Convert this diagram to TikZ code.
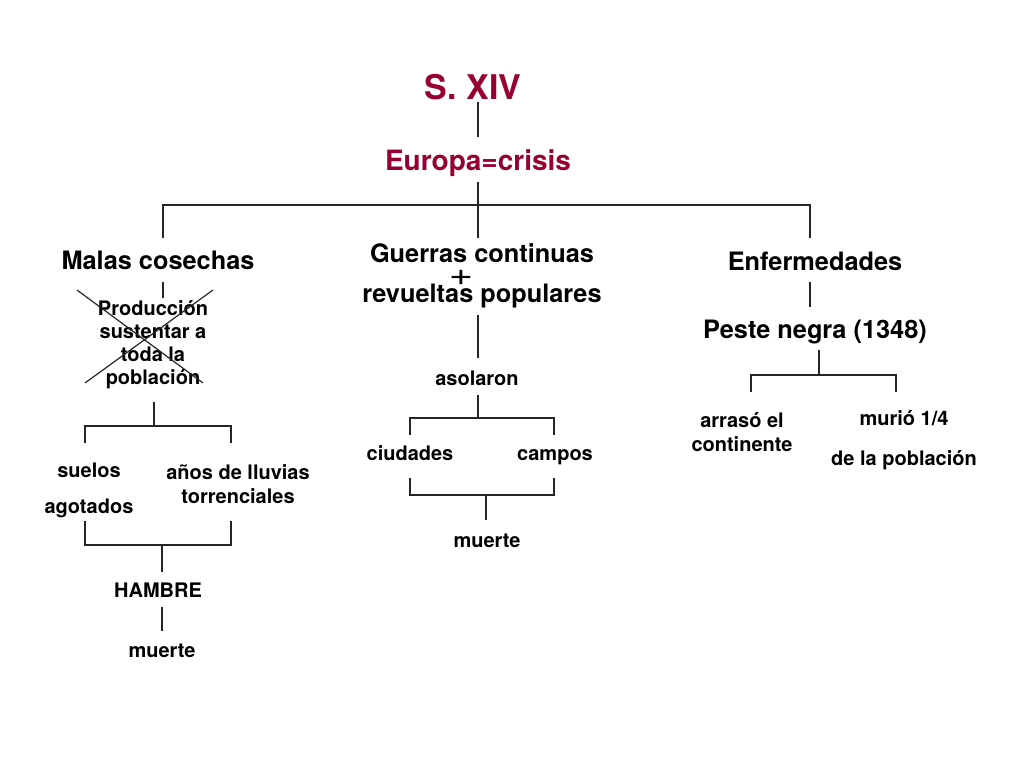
\documentclass[tikz,border=0pt]{standalone}
\usepackage{fontspec}
\setmainfont{TeX Gyre Heros}
\definecolor{crimson}{RGB}{152,0,52}
\begin{document}
\begin{tikzpicture}[x=0.75pt,y=-0.75pt,
  txt/.style={inner sep=0pt,font=\bfseries\fontsize{15}{17.25}\selectfont,align=center},
  one/.style={inner sep=0pt,anchor=base,font=\bfseries\fontsize{15}{17.25}\selectfont},
  big/.style={inner sep=0pt,anchor=base,font=\bfseries\fontsize{19}{17.25}\selectfont},
  title/.style={inner sep=0pt,anchor=base,text=crimson,font=\bfseries\fontsize{25.5}{28}\selectfont},
  sub/.style={inner sep=0pt,anchor=base,text=crimson,font=\bfseries\fontsize{21}{24}\selectfont},
  ln/.style={draw=black!85,line width=1.1pt},
  xl/.style={draw=black!85,line width=0.9pt}]
\useasboundingbox[fill=white] (0,0) rectangle (1024,768);
% nodes
\node[title] (s14) at (473,99) {S. XIV};
\node[sub] (eur) at (478,170) {Europa=crisis};
\node[big] (malas) at (158,269) {Malas cosechas};
\node[big] (gu1) at (482,262) {Guerras continuas};
\node[inner sep=0pt,text height=0.4em,text depth=0pt,font=\fontsize{24}{24}\selectfont] (plus) at (461,277) {\raisebox{-4pt}{\scalebox{1.3}[1]{+}}};
\node[big] (gu2) at (482,302) {revueltas populares};
\node[big] (enf) at (815,270) {Enfermedades};
\node[big] (peste) at (815,338) {Peste negra (1348)};
\node[txt] (prod) at (153,345) {Producción\\sustentar a\\toda la\\población};
\node[txt,font=\bfseries\fontsize{15}{27}\selectfont] (suelos) at (89,490) {suelos\\agotados};
\node[txt,font=\bfseries\fontsize{15}{18}\selectfont] (anos) at (238,484) {años de lluvias\\torrenciales};
\node[one] (hambre) at (158,597) {HAMBRE};
\node[one] (muerte1) at (162,657) {muerte};
\node[one] (asol) at (477,385) {asolaron};
\node[one] (ciud) at (410,460) {ciudades};
\node[one] (camp) at (555,460) {campos};
\node[one] (muerte2) at (487,547) {muerte};
\node[txt,font=\bfseries\fontsize{15}{18}\selectfont] (arr) at (742,432) {arrasó el\\continente};
\node[txt,font=\bfseries\fontsize{15}{30}\selectfont] (murio) at (904,440) {murió 1/4\\de la población};
% coordinates for connectors
\coordinate (c1a) at (478,102); \coordinate (c1b) at (478,137);
\coordinate (c2a) at (478,182); \coordinate (c2b) at (478,238);
\coordinate (hl) at (163,205); \coordinate (hr) at (810,205);
\coordinate (dl) at (163,238); \coordinate (dr) at (810,238);
\coordinate (m1) at (163,282); \coordinate (m2) at (163,298);
\coordinate (x1) at (77,290); \coordinate (x2) at (203,383);
\coordinate (x3) at (213,290); \coordinate (x4) at (85,383);
\coordinate (p1) at (154,402); \coordinate (p2) at (154,426);
\coordinate (p3) at (85,426); \coordinate (p4) at (231,426);
\coordinate (p5) at (85,443); \coordinate (p6) at (231,443);
\coordinate (q1) at (85,521); \coordinate (q2) at (85,545);
\coordinate (q3) at (231,545); \coordinate (q4) at (231,521);
\coordinate (q5) at (162,545); \coordinate (q6) at (162,572);
\coordinate (h1) at (162,607); \coordinate (h2) at (162,631);
\coordinate (g1) at (478,315); \coordinate (g2) at (478,358);
\coordinate (a1) at (478,395); \coordinate (a2) at (478,418);
\coordinate (a3) at (410,435); \coordinate (a4) at (410,418);
\coordinate (a5) at (554,418); \coordinate (a6) at (554,435);
\coordinate (b1) at (410,478); \coordinate (b2) at (410,495);
\coordinate (b3) at (554,495); \coordinate (b4) at (554,478);
\coordinate (b5) at (486,495); \coordinate (b6) at (486,520);
\coordinate (e1) at (810,282); \coordinate (e2) at (810,307);
\coordinate (n1) at (819,350); \coordinate (n2) at (819,375);
\coordinate (n3) at (751,392); \coordinate (n4) at (751,375);
\coordinate (n5) at (896,375); \coordinate (n6) at (896,392);
% connectors
\draw[ln] (c1a) -- (c1b);
\draw[ln] (c2a) -- (c2b);
\draw[ln] (dl) -- (hl) -- (hr) -- (dr);
\draw[ln] (m1) -- (m2);
\draw[xl] (x1) -- (x2);
\draw[xl] (x3) -- (x4);
\draw[ln] (p1) -- (p2);
\draw[ln] (p5) -- (p3) -- (p4) -- (p6);
\draw[ln] (q1) -- (q2) -- (q3) -- (q4);
\draw[ln] (q5) -- (q6);
\draw[ln] (h1) -- (h2);
\draw[ln] (g1) -- (g2);
\draw[ln] (a1) -- (a2);
\draw[ln] (a3) -- (a4) -- (a5) -- (a6);
\draw[ln] (b1) -- (b2) -- (b3) -- (b4);
\draw[ln] (b5) -- (b6);
\draw[ln] (e1) -- (e2);
\draw[ln] (n1) -- (n2);
\draw[ln] (n3) -- (n4) -- (n5) -- (n6);
\end{tikzpicture}
\end{document}
